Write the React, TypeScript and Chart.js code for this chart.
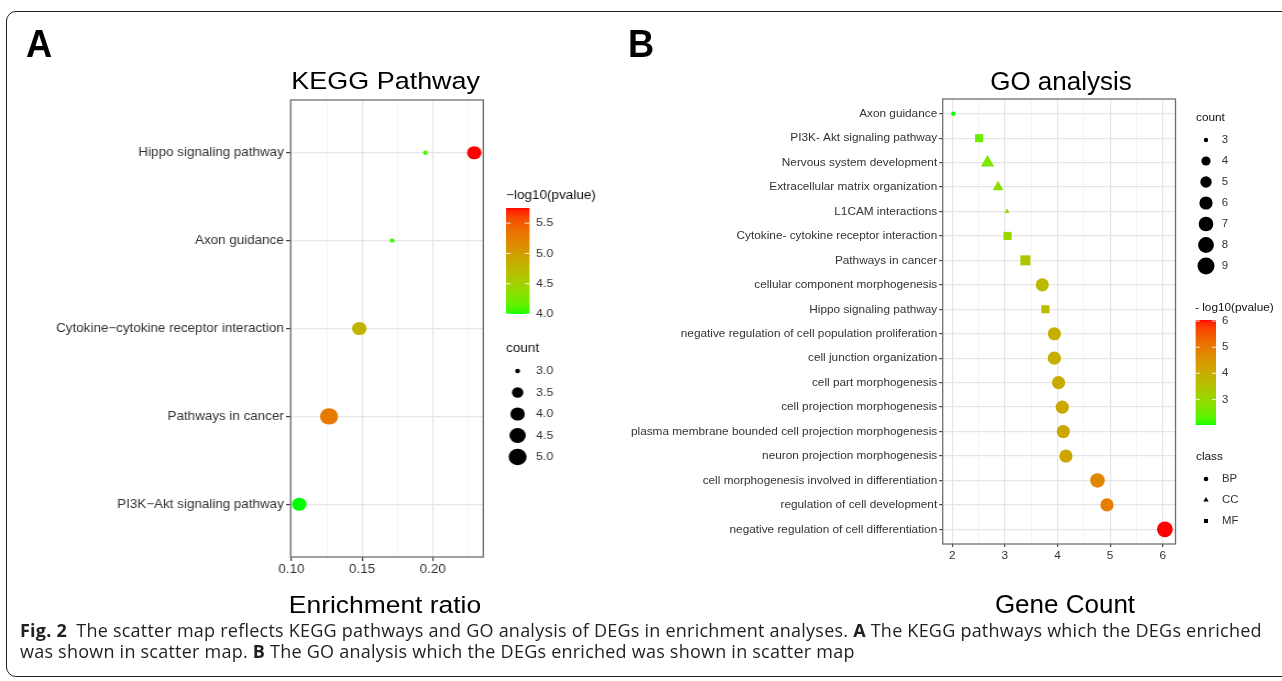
import React, { useEffect, useRef } from "react";
import { Chart, registerables } from "chart.js";

Chart.register(...registerables);

const FONT = '"Liberation Sans", Arial, Helvetica, sans-serif';
const CAPTION_FONT = '"Open Sans", "Liberation Sans", sans-serif';

// ---------------- Panel A : KEGG Pathway ----------------
const keggCategories = [
  "Hippo signaling pathway",
  "Axon guidance",
  "Cytokine\u2212cytokine receptor interaction",
  "Pathways in cancer",
  "PI3K\u2212Akt signaling pathway",
];
const keggTerms = [
  "Hippo signaling pathway",
  "Hippo signaling pathway",
  "Axon guidance",
  "Cytokine\u2212cytokine receptor interaction",
  "Pathways in cancer",
  "PI3K\u2212Akt signaling pathway",
];
const keggRatio = [0.1948, 0.2294, 0.1713, 0.148, 0.1266, 0.1055];
const keggCount = [3, 4, 3, 4, 5, 4];
const keggLogP = [4.1, 5.75, 4.05, 4.8, 5.3, 4.0];
const keggXMajor = [0.1, 0.15, 0.2];
const keggXMinor = [0.125, 0.175, 0.225];
const keggColorBreaks = [4.0, 4.5, 5.0, 5.5];
const keggSizeBreaks = [3.0, 3.5, 4.0, 4.5, 5.0];

// ---------------- Panel B : GO analysis ----------------
const goCategories = [
  "Axon guidance",
  "PI3K- Akt signaling pathway",
  "Nervous system development",
  "Extracellular matrix organization",
  "L1CAM interactions",
  "Cytokine- cytokine receptor interaction",
  "Pathways in cancer",
  "cellular component morphogenesis",
  "Hippo signaling pathway",
  "negative regulation of cell population proliferation",
  "cell junction organization",
  "cell part morphogenesis",
  "cell projection morphogenesis",
  "plasma membrane bounded cell projection morphogenesis",
  "neuron projection morphogenesis",
  "cell morphogenesis involved in differentiation",
  "regulation of cell development",
  "negative regulation of cell differentiation",
];
const goGeneCount = [2.02, 2.51, 2.67, 2.87, 3.04, 3.05, 3.39, 3.71, 3.77, 3.94, 3.94, 4.02, 4.09, 4.11, 4.16, 4.76, 4.94, 6.04];
const goCount = [3, 4, 5, 4, 3, 4, 5, 6, 4, 6, 6, 6, 6, 6, 6, 7, 6, 8];
const goLogP = [2.02, 2.5, 2.65, 2.85, 3.0, 3.05, 3.4, 3.7, 3.75, 3.95, 3.95, 4.05, 4.1, 4.1, 4.15, 4.75, 4.95, 6.04];
const goClass = ["MF", "MF", "CC", "CC", "CC", "MF", "MF", "BP", "MF", "BP", "BP", "BP", "BP", "BP", "BP", "BP", "BP", "BP"];
const goXMajor = [2, 3, 4, 5, 6];
const goXMinor = [2.5, 3.5, 4.5, 5.5];
const goColorBreaks = [3, 4, 5, 6];
const goSizeBreaks = [3, 4, 5, 6, 7, 8, 9];
const goClassLevels = ["BP", "CC", "MF"];

// ---------------- style helpers ----------------
const KEGG_SIZE_IN = [3, 3.5, 4, 4.5, 5];
const KEGG_SIZE_R = [2.2, 5.2, 6.6, 7.4, 8.2];
const GO_SIZE_IN = [3, 4, 5, 6, 7, 8, 9];
const GO_SIZE_R = [2.2, 4.6, 5.7, 6.6, 7.3, 7.9, 8.5];
const SHAPE_OF: Record<string, string> = { BP: "circle", CC: "triangle", MF: "rect" };
const SHAPE_K: Record<string, number> = { circle: 1, triangle: 1.35, rect: 1.25 };

function interp(xs: number[], ys: number[], v: number) {
  if (v <= xs[0]) return ys[0];
  for (let i = 1; i < xs.length; i++) {
    if (v <= xs[i]) {
      const t = (v - xs[i - 1]) / (xs[i] - xs[i - 1]);
      return ys[i - 1] + t * (ys[i] - ys[i - 1]);
    }
  }
  return ys[ys.length - 1];
}
const keggRadius = (c: number) => interp(KEGG_SIZE_IN, KEGG_SIZE_R, c);
const goRadius = (c: number) => interp(GO_SIZE_IN, GO_SIZE_R, c);

// green -> red gradient interpolated in CIELAB (like ggplot2)
const lin = (c: number) => {
  c /= 255;
  return c <= 0.04045 ? c / 12.92 : Math.pow((c + 0.055) / 1.055, 2.4);
};
const gam = (c: number) => {
  const v = c <= 0.0031308 ? 12.92 * c : 1.055 * Math.pow(c, 1 / 2.4) - 0.055;
  return Math.round(Math.min(1, Math.max(0, v)) * 255);
};
const WX = 0.95047, WY = 1, WZ = 1.08883;
function toLab(rgb: number[]) {
  const R = lin(rgb[0]), G = lin(rgb[1]), B = lin(rgb[2]);
  const X = (0.4124564 * R + 0.3575761 * G + 0.1804375 * B) / WX;
  const Y = (0.2126729 * R + 0.7151522 * G + 0.072175 * B) / WY;
  const Z = (0.0193339 * R + 0.119192 * G + 0.9503041 * B) / WZ;
  const f = (t: number) => (t > 216 / 24389 ? Math.cbrt(t) : ((24389 / 27) * t + 16) / 116);
  const fx = f(X), fy = f(Y), fz = f(Z);
  return [116 * fy - 16, 500 * (fx - fy), 200 * (fy - fz)];
}
function fromLab(lab: number[]) {
  const fy = (lab[0] + 16) / 116, fx = fy + lab[1] / 500, fz = fy - lab[2] / 200;
  const inv = (t: number) => (t * t * t > 216 / 24389 ? t * t * t : (116 * t - 16) / (24389 / 27));
  const X = inv(fx) * WX, Y = inv(fy) * WY, Z = inv(fz) * WZ;
  const R = 3.2404542 * X - 1.5371385 * Y - 0.4985314 * Z;
  const G = -0.969266 * X + 1.8760108 * Y + 0.041556 * Z;
  const B = 0.0556434 * X - 0.2040259 * Y + 1.0572252 * Z;
  return `rgb(${gam(R)},${gam(G)},${gam(B)})`;
}
const LAB_LOW = toLab([0, 255, 0]);
const LAB_HIGH = toLab([255, 0, 0]);
function ramp(t: number) {
  const u = Math.min(1, Math.max(0, t));
  return fromLab([0, 1, 2].map((i) => LAB_LOW[i] + (LAB_HIGH[i] - LAB_LOW[i]) * u));
}

// ---------------- layout constants ----------------
const H = 681;
const A_K = 1.1; // horizontal stretch of panel A (as in the original figure)
const A_W = 560; // internal width of panel A
const A_AREA = { left: 290.6 / A_K, right: 483.3 / A_K, top: 100, bottom: 557 };
const B_OFF = 600;
const B_W = 682;
const B_AREA = { left: 942.7 - B_OFF, right: 1175.5 - B_OFF, top: 99, bottom: 544 };

const GRID_MAJOR = "#e6e6e6";
const GRID_MINOR = "#f1f1f1";
const TICK_TEXT = "#333333";

const framePlugin = {
  id: "frame",
  afterDatasetsDraw(chart: any) {
    const { ctx, chartArea: a } = chart;
    ctx.save();
    ctx.strokeStyle = "#6f6f6f";
    ctx.lineWidth = 1.3;
    ctx.strokeRect(a.left, a.top, a.right - a.left, a.bottom - a.top);
    ctx.restore();
  },
};

function drawShape(ctx: CanvasRenderingContext2D, shape: string, x: number, y: number, r: number) {
  ctx.beginPath();
  if (shape === "circle") {
    ctx.arc(x, y, r, 0, Math.PI * 2);
  } else if (shape === "triangle") {
    const a1 = (2 * Math.PI) / 3, a2 = (4 * Math.PI) / 3;
    ctx.moveTo(x, y - r);
    ctx.lineTo(x + r * Math.sin(a1), y - r * Math.cos(a1));
    ctx.lineTo(x + r * Math.sin(a2), y - r * Math.cos(a2));
    ctx.closePath();
  } else {
    const h = r * Math.SQRT1_2;
    ctx.rect(x - h, y - h, 2 * h, 2 * h);
  }
  ctx.fill();
}

function drawColorbar(ctx: CanvasRenderingContext2D, o: any) {
  ctx.save();
  ctx.textBaseline = "middle";
  ctx.textAlign = "left";
  ctx.fillStyle = "#111";
  ctx.font = `${o.titleFont}px ${FONT}`;
  ctx.fillText(o.title, o.titleX, o.titleY);
  const n = Math.ceil(o.yBot - o.yTop);
  for (let i = 0; i < n; i++) {
    const t = 1 - (i + 0.5) / n;
    const v = o.vMin + t * (o.vMax - o.vMin);
    ctx.fillStyle = ramp((v - o.vMin) / (o.vMax - o.vMin));
    ctx.fillRect(o.x0, o.yTop + i, o.x1 - o.x0, Math.min(1.3, o.yBot - o.yTop - i));
  }
  ctx.font = `${o.labelFont}px ${FONT}`;
  const tl = (o.x1 - o.x0) / 5;
  o.breaks.forEach((v: number) => {
    const y = o.yBot - ((v - o.vMin) / (o.vMax - o.vMin)) * (o.yBot - o.yTop);
    ctx.strokeStyle = "rgba(255,255,255,0.85)";
    ctx.lineWidth = 1;
    ctx.beginPath();
    ctx.moveTo(o.x0, y);
    ctx.lineTo(o.x0 + tl, y);
    ctx.moveTo(o.x1 - tl, y);
    ctx.lineTo(o.x1, y);
    ctx.stroke();
    ctx.fillStyle = TICK_TEXT;
    ctx.fillText(o.fmt(v), o.labelX, y);
  });
  ctx.restore();
}

function drawKeyLegend(ctx: CanvasRenderingContext2D, o: any) {
  ctx.save();
  ctx.textBaseline = "middle";
  ctx.textAlign = "left";
  ctx.fillStyle = "#111";
  ctx.font = `${o.titleFont}px ${FONT}`;
  ctx.fillText(o.title, o.titleX, o.titleY);
  ctx.font = `${o.labelFont}px ${FONT}`;
  o.items.forEach((it: any, i: number) => {
    const y = o.y0 + i * o.step;
    ctx.fillStyle = "#000";
    drawShape(ctx, it.shape, o.symX, y, it.r);
    ctx.fillStyle = TICK_TEXT;
    ctx.fillText(it.label, o.labelX, y);
  });
  ctx.restore();
}

function gridOpts(major: number[], tickLen: number) {
  const isMajor = (c: any) => c && c.tick && major.includes(c.tick.value);
  return {
    color: (c: any) => (isMajor(c) ? GRID_MAJOR : GRID_MINOR),
    lineWidth: (c: any) => (isMajor(c) ? 1.2 : 0.8),
    tickColor: (c: any) => (isMajor(c) ? "#444" : "rgba(0,0,0,0)"),
    tickLength: tickLen,
    drawTicks: true,
  };
}

function configA() {
  const vMin = Math.min(...keggLogP);
  const vMax = Math.max(...keggLogP);
  const padLeft = 0;
  const P = (px: number) => px / A_K; // page x -> internal x
  const legendA = {
    id: "legendA",
    afterDraw(chart: any) {
      const ctx = chart.ctx;
      drawColorbar(ctx, {
        title: "\u2212log10(pvalue)",
        titleX: P(506),
        titleY: 196,
        titleFont: 12.3,
        x0: P(506),
        x1: P(529.4),
        yTop: 208,
        yBot: 314,
        vMin,
        vMax,
        breaks: keggColorBreaks,
        fmt: (v: number) => v.toFixed(1),
        labelX: P(536),
        labelFont: 11.4,
      });
      drawKeyLegend(ctx, {
        title: "count",
        titleX: P(506),
        titleY: 349,
        titleFont: 12.3,
        labelFont: 11.4,
        y0: 371,
        step: 21.5,
        symX: P(517.6),
        labelX: P(536),
        items: keggSizeBreaks.map((b) => ({ shape: "circle", r: keggRadius(b), label: b.toFixed(1) })),
      });
    },
  };
  return {
    type: "scatter",
    data: {
      datasets: [
        {
          data: keggRatio.map((x, i) => ({ x, y: keggCategories.indexOf(keggTerms[i]) })),
          pointRadius: keggCount.map(keggRadius),
          pointHoverRadius: keggCount.map(keggRadius),
          pointBackgroundColor: keggLogP.map((v) => ramp((v - vMin) / (vMax - vMin))),
          pointBorderWidth: 0,
          pointHoverBorderWidth: 0,
          pointBorderColor: "rgba(0,0,0,0)",
          clip: false,
        },
      ],
    },
    options: {
      responsive: false,
      animation: false,
      events: [],
      layout: {
        padding: { left: padLeft, top: A_AREA.top, right: A_W - A_AREA.right, bottom: H - A_AREA.bottom - 30 },
      },
      plugins: { legend: { display: false }, tooltip: { enabled: false }, title: { display: false } },
      scales: {
        x: {
          type: "linear",
          min: 0.0994,
          max: 0.2358,
          afterBuildTicks: (s: any) => {
            s.ticks = [...keggXMajor, ...keggXMinor].sort((a, b) => a - b).map((v) => ({ value: v }));
          },
          afterFit: (s: any) => {
            s.height = 30;
          },
          ticks: {
            autoSkip: false,
            maxRotation: 0,
            minRotation: 0,
            padding: 1,
            color: TICK_TEXT,
            font: { family: FONT, size: 12.2 },
            callback: (v: number) => (keggXMajor.includes(v) ? v.toFixed(2) : ""),
          },
          grid: gridOpts(keggXMajor, 4),
          border: { display: false },
        },
        y: {
          type: "linear",
          reverse: true,
          min: -0.6,
          max: keggCategories.length - 0.4,
          afterBuildTicks: (s: any) => {
            s.ticks = keggCategories.map((_, i) => ({ value: i }));
          },
          afterFit: (s: any) => {
            s.width = A_AREA.left - padLeft;
          },
          ticks: {
            autoSkip: false,
            padding: 2,
            color: TICK_TEXT,
            font: { family: FONT, size: 12.2 },
            callback: (v: number) => keggCategories[v],
          },
          grid: { color: GRID_MAJOR, lineWidth: 1.2, tickColor: "#444", tickLength: 4.2 },
          border: { display: false },
        },
      },
    },
    plugins: [framePlugin, legendA],
  };
}

function configB() {
  const vMin = Math.min(...goLogP);
  const vMax = Math.max(...goLogP);
  const padLeft = 0;
  const X = (px: number) => px - B_OFF;
  const legendB = {
    id: "legendB",
    afterDraw(chart: any) {
      const ctx = chart.ctx;
      drawKeyLegend(ctx, {
        title: "count",
        titleX: X(1196),
        titleY: 118,
        titleFont: 11.8,
        labelFont: 11.4,
        y0: 140,
        step: 21,
        symX: X(1206),
        labelX: X(1221.7),
        items: goSizeBreaks.map((b) => ({ shape: "circle", r: goRadius(b), label: String(b) })),
      });
      drawColorbar(ctx, {
        title: "- log10(pvalue)",
        titleX: X(1195),
        titleY: 308,
        titleFont: 11.8,
        x0: X(1195.7),
        x1: X(1216),
        yTop: 320,
        yBot: 425,
        vMin,
        vMax,
        breaks: goColorBreaks,
        fmt: (v: number) => String(v),
        labelX: X(1222),
        labelFont: 11.4,
      });
      drawKeyLegend(ctx, {
        title: "class",
        titleX: X(1196),
        titleY: 457,
        titleFont: 11.8,
        labelFont: 11.4,
        y0: 479,
        step: 21,
        symX: X(1206),
        labelX: X(1222),
        items: goClassLevels.map((c) => {
          const shape = SHAPE_OF[c];
          return { shape, r: 2.3 * SHAPE_K[shape], label: c };
        }),
      });
    },
  };
  const radii = goCount.map((c, i) => goRadius(c) * SHAPE_K[SHAPE_OF[goClass[i]]]);
  return {
    type: "scatter",
    data: {
      datasets: [
        {
          data: goGeneCount.map((x, i) => ({ x, y: i })),
          pointRadius: radii,
          pointHoverRadius: radii,
          pointStyle: goClass.map((c) => SHAPE_OF[c]),
          pointBackgroundColor: goLogP.map((v) => ramp((v - vMin) / (vMax - vMin))),
          pointBorderWidth: 0,
          pointHoverBorderWidth: 0,
          pointBorderColor: "rgba(0,0,0,0)",
          clip: false,
        },
      ],
    },
    options: {
      responsive: false,
      animation: false,
      events: [],
      layout: {
        padding: { left: padLeft, top: B_AREA.top, right: B_W - B_AREA.right, bottom: H - B_AREA.bottom - 25 },
      },
      plugins: { legend: { display: false }, tooltip: { enabled: false }, title: { display: false } },
      scales: {
        x: {
          type: "linear",
          min: 1.818,
          max: 6.242,
          afterBuildTicks: (s: any) => {
            s.ticks = [...goXMajor, ...goXMinor].sort((a, b) => a - b).map((v) => ({ value: v }));
          },
          afterFit: (s: any) => {
            s.height = 25;
          },
          ticks: {
            autoSkip: false,
            maxRotation: 0,
            minRotation: 0,
            padding: 2,
            color: TICK_TEXT,
            font: { family: FONT, size: 11.8 },
            callback: (v: number) => (goXMajor.includes(v) ? String(v) : ""),
          },
          grid: gridOpts(goXMajor, 3),
          border: { display: false },
        },
        y: {
          type: "linear",
          reverse: true,
          min: -0.6,
          max: goCategories.length - 0.4,
          afterBuildTicks: (s: any) => {
            s.ticks = goCategories.map((_, i) => ({ value: i }));
          },
          afterFit: (s: any) => {
            s.width = B_AREA.left - padLeft;
          },
          ticks: {
            autoSkip: false,
            padding: 2,
            color: TICK_TEXT,
            font: { family: FONT, size: 11.8 },
            callback: (v: number) => goCategories[v],
          },
          grid: { color: GRID_MAJOR, lineWidth: 1.2, tickColor: "#444", tickLength: 3.5 },
          border: { display: false },
        },
      },
    },
    plugins: [framePlugin, legendB],
  };
}

type TxtProps = {
  x: number;
  base: number;
  size: number;
  align?: "left" | "center";
  bold?: boolean;
  family?: string;
  asc?: number;
  desc?: number;
  color?: string;
  sx?: number;
  ls?: number;
  children?: React.ReactNode;
};

function Txt({ x, base, size, align = "left", bold = false, family = FONT, asc = 0.905, desc = 0.212, color = "#000", sx = 1, ls = 0, children }: TxtProps) {
  const lh = Math.round(size * 1.3);
  const top = base - ((lh - (asc + desc) * size) / 2 + asc * size);
  const tf = align === "center" ? `translateX(-50%) scaleX(${sx})` : `scaleX(${sx})`;
  return (
    <div
      style={{
        position: "absolute",
        left: x,
        top,
        height: lh,
        lineHeight: `${lh}px`,
        fontSize: size,
        fontFamily: family,
        fontWeight: bold ? 700 : 400,
        letterSpacing: ls,
        color,
        whiteSpace: "nowrap",
        transform: tf,
        transformOrigin: align === "center" ? "50% 50%" : "0 50%",
      }}
    >
      {children}
    </div>
  );
}

function ChartCanvas({ make, width, height }: { make: () => any; width: number; height: number }) {
  const ref = useRef<HTMLCanvasElement | null>(null);
  useEffect(() => {
    if (!ref.current) return;
    const chart = new Chart(ref.current, make());
    return () => chart.destroy();
  }, []);
  return (
    <canvas
      ref={ref}
      width={width}
      height={height}
      style={{ position: "absolute", left: 0, top: 0, width, height }}
    />
  );
}

const CAP = { fontFamily: CAPTION_FONT, asc: 1.069, desc: 0.293 };

export default function App() {
  return (
    <div
      style={{
        position: "absolute",
        left: 0,
        top: 0,
        width: 1282,
        height: H,
        overflow: "hidden",
        background: "#fff",
      }}
    >
      <div
        style={{
          position: "absolute",
          left: 6,
          top: 11,
          width: 1300,
          height: 666,
          border: "1.3px solid #222",
          borderRadius: 10,
          boxSizing: "border-box",
        }}
      />
      {/* Panel A (horizontally stretched like the original figure) */}
      <div
        style={{
          position: "absolute",
          left: 0,
          top: 0,
          width: A_W,
          height: H,
          transform: `scaleX(${A_K})`,
          transformOrigin: "0 0",
        }}
      >
        <ChartCanvas make={configA} width={A_W} height={H} />
        <Txt x={385.7 / A_K} base={89.3} size={24.5} align="center">
          KEGG Pathway
        </Txt>
        <Txt x={384.5 / A_K} base={613} size={24.5} sx={0.98} align="center">
          Enrichment ratio
        </Txt>
      </div>
      {/* Panel B */}
      <div style={{ position: "absolute", left: B_OFF, top: 0, width: B_W, height: H }}>
        <ChartCanvas make={configB} width={B_W} height={H} />
      </div>
      <Txt x={1061} base={90} size={26} align="center">
        GO analysis
      </Txt>
      <Txt x={1065} base={613} size={26} align="center">
        Gene Count
      </Txt>
      <Txt x={26} base={57} size={39} bold sx={0.93}>
        A
      </Txt>
      <Txt x={628} base={57} size={39} bold sx={0.93}>
        B
      </Txt>
      <Txt x={20} base={637} size={18} ls={0.23} family={CAP.fontFamily} asc={CAP.asc} desc={CAP.desc} color="#231f20">
        <b>Fig. 2</b>
        {"\u2002"}The scatter map reflects KEGG pathways and GO analysis of DEGs in enrichment analyses. <b>A</b> The KEGG
        pathways which the DEGs enriched
      </Txt>
      <Txt x={20} base={658} size={18} ls={0.23} family={CAP.fontFamily} asc={CAP.asc} desc={CAP.desc} color="#231f20">
        was shown in scatter map. <b>B</b> The GO analysis which the DEGs enriched was shown in scatter map
      </Txt>
    </div>
  );
}
